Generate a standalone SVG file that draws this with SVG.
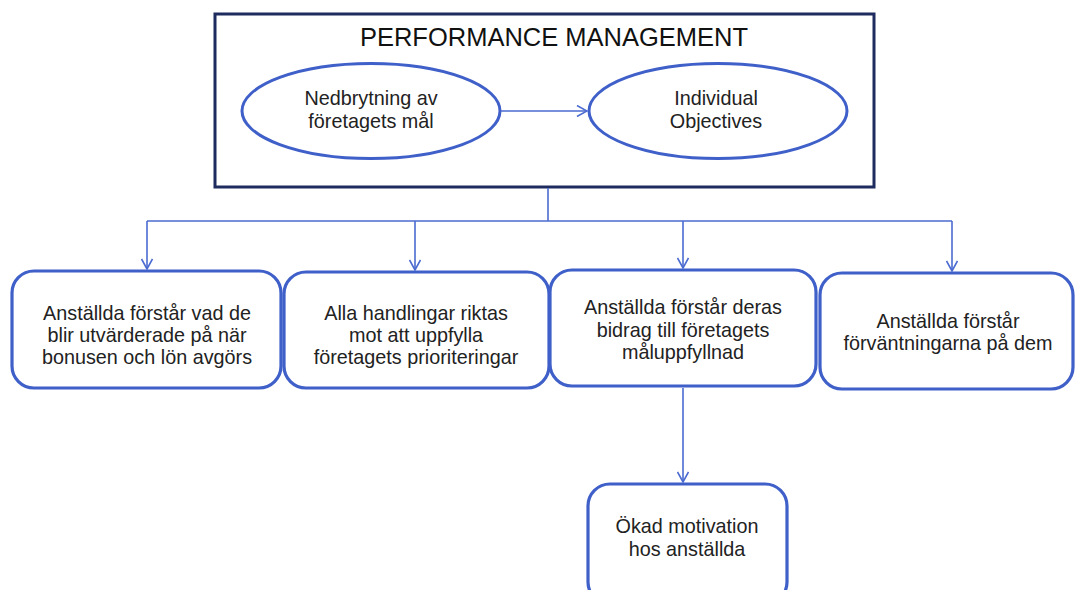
<svg xmlns="http://www.w3.org/2000/svg" width="1076" height="590" viewBox="0 0 1076 590">
<defs>
<style>
.t{font-family:"Liberation Sans",Arial,sans-serif;font-size:19.8px;fill:#222;text-anchor:middle}
.title{font-family:"Liberation Sans",Arial,sans-serif;font-size:25.5px;fill:#111;text-anchor:middle}
.box{fill:#fff;stroke:#3f5fc9;stroke-width:3.2}
.ell{fill:#fff;stroke:#3f5fc9;stroke-width:3}
.con{fill:none;stroke:#4b6bd0;stroke-width:1.6}
</style>
<marker id="arr" viewBox="0 0 12 12" refX="11" refY="6" markerWidth="12" markerHeight="12" markerUnits="userSpaceOnUse" orient="auto">
<path d="M1,0.5 L11,6 L1,11.5" fill="none" stroke="#4b6bd0" stroke-width="1.6"/>
</marker>
</defs>
<rect width="1076" height="590" fill="#fff"/>
<g id="pm">
<rect x="215" y="14" width="659" height="173" fill="#fff" stroke="#1e2b5e" stroke-width="3"/>
<text class="title" x="554" y="46">PERFORMANCE MANAGEMENT</text>
</g>
<g id="e1">
<ellipse class="ell" cx="371" cy="111" rx="129" ry="47.5"/>
<text class="t" x="371" y="105">Nedbrytning av</text>
<text class="t" x="371" y="128">företagets mål</text>
</g>
<g id="e2">
<ellipse class="ell" cx="718" cy="111" rx="129" ry="47.5"/>
<text class="t" x="716" y="105">Individual</text>
<text class="t" x="716" y="128">Objectives</text>
</g>
<g id="b1">
<rect class="box" x="12" y="271" width="269" height="117" rx="22"/>
<text class="t" x="147" y="320">Anställda förstår vad de</text>
<text class="t" x="147" y="342">blir utvärderade på när</text>
<text class="t" x="147" y="364">bonusen och lön avgörs</text>
</g>
<g id="b2">
<rect class="box" x="284" y="272" width="265" height="116" rx="22"/>
<text class="t" x="416" y="320">Alla handlingar riktas</text>
<text class="t" x="416" y="342">mot att uppfylla</text>
<text class="t" x="416" y="364">företagets prioriteringar</text>
</g>
<g id="b3">
<rect class="box" x="550" y="270" width="266" height="116" rx="22"/>
<text class="t" x="683" y="314">Anställda förstår deras</text>
<text class="t" x="683" y="337">bidrag till företagets</text>
<text class="t" x="683" y="359">måluppfyllnad</text>
</g>
<g id="b4">
<rect class="box" x="820" y="273" width="253" height="116" rx="22"/>
<text class="t" x="948" y="328">Anställda förstår</text>
<text class="t" x="948" y="350">förväntningarna på dem</text>
</g>
<g id="b5">
<rect class="box" x="588" y="484" width="199" height="120" rx="22"/>
<text class="t" x="687" y="533">Ökad motivation</text>
<text class="t" x="687" y="556">hos anställda</text>
</g>
<g id="connectors">
<line class="con" x1="501" y1="111" x2="587" y2="111" marker-end="url(#arr)"/>
<polyline class="con" points="548,188 548,221"/>
<polyline class="con" points="147,221 952,221"/>
<line class="con" x1="147" y1="221" x2="147" y2="269" marker-end="url(#arr)"/>
<line class="con" x1="415" y1="221" x2="415" y2="270" marker-end="url(#arr)"/>
<line class="con" x1="683" y1="221" x2="683" y2="268" marker-end="url(#arr)"/>
<line class="con" x1="952" y1="221" x2="952" y2="271" marker-end="url(#arr)"/>
<line class="con" x1="683" y1="388" x2="683" y2="482" marker-end="url(#arr)"/>
</g>
</svg>
